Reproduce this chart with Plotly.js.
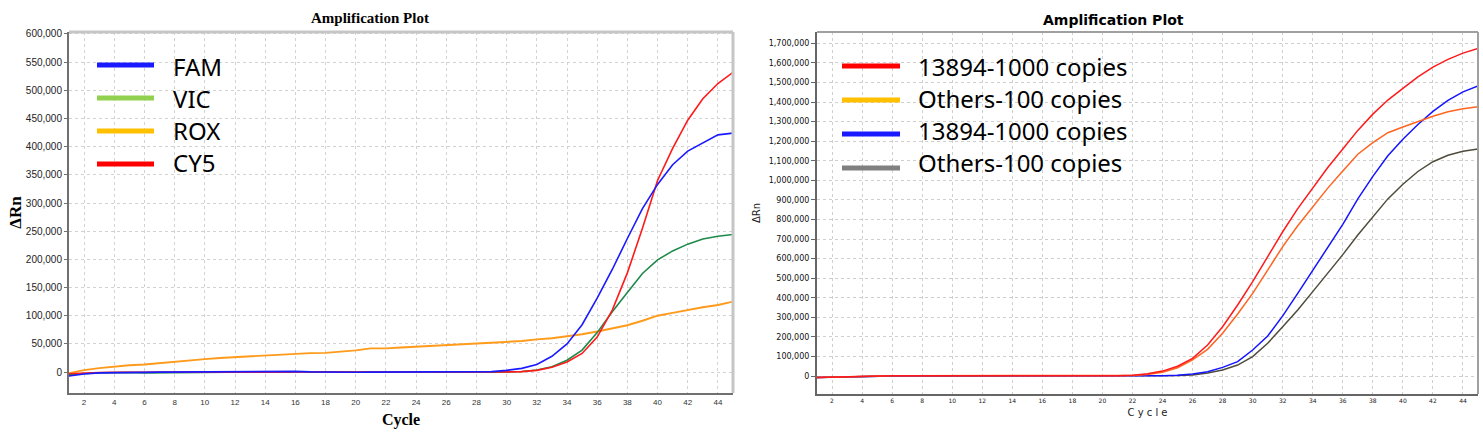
<!DOCTYPE html>
<html>
<head>
<meta charset="utf-8">
<script src="https://cdn.plot.ly/plotly-3.0.1.min.js"></script>
<style>
  body { margin: 0; background: #fff; }
  #chart { width: 1483px; height: 432px; }
</style>
</head>
<body>
<div id="chart"></div>
<script>
// cycles 1..45
var cycles = [];
for (var i = 1; i <= 45; i++) cycles.push(i);
var cycleTicks = [2,4,6,8,10,12,14,16,18,20,22,24,26,28,30,32,34,36,38,40,42,44];

// left panel: four dyes
var famVals = [-7000,-3500,-1500,-800,-300,-600,-200,0,300,600,800,500,400,300,500,1200,300,-200,-300,-400,-200,-100,-300,-200,-500,-600,-400,-300,800,3000,6500,13500,28000,50000,84000,131000,182000,237000,290000,333000,368000,392000,406000,421000,424000];
var vicVals = [-5000,-2500,-1500,-1000,-800,-1500,-1200,-500,0,300,500,800,600,400,300,200,400,600,500,200,0,-200,-800,-500,-300,-600,-800,-600,-400,200,1000,3500,9500,21000,39000,70000,107000,141000,175000,199000,215000,227000,236000,241000,244000];
var roxVals = [-2000,3500,7000,10000,12000,13500,16000,19000,21000,23000,25000,26500,28000,29500,31000,32500,33500,34000,36000,38500,42000,42000,43500,45000,46500,47000,49000,50500,52000,53000,55000,58000,60000,63500,67000,72000,77000,83000,91000,100000,105000,110500,115000,119000,125000];
var cy5Vals = [-3000,-1500,-800,-300,0,200,100,0,-100,-300,-500,-800,-500,-300,-200,0,200,100,0,-100,0,100,0,-200,-400,-300,-200,-100,0,300,800,3000,8500,18000,33000,62000,110000,176000,255000,340000,397000,447000,485000,512000,532000];

var leftNames = ['FAM', 'VIC', 'ROX', 'CY5'];
var leftLineColors = ['#1a1aff', '#1e8a4a', '#ff9a1a', '#ff1a1a'];
var leftKeyColors = ['#1a1aff', '#92d050', '#ffc000', '#ff0000'];

// right panel: two targets, two dyes
var red1000 = [-8000,-6000,-3000,0,1000,1000,1000,1000,1000,1000,1000,1000,500,0,0,0,500,0,0,0,1500,4000,11000,25000,50000,90000,158000,252000,363000,482000,610000,737000,855000,960000,1065000,1160000,1255000,1338000,1410000,1470000,1528000,1578000,1618000,1650000,1674000];
var orange100 = [-8000,-6000,-3000,0,1000,1000,1000,1000,1000,1000,1000,1000,500,0,0,0,500,0,0,0,1000,3000,8000,19000,42000,82000,136000,218000,317000,422000,541000,661000,768000,865000,960000,1048000,1133000,1192000,1243000,1272000,1300000,1327000,1350000,1366000,1376000];
var blue1000 = [-8000,-6000,-2000,0,500,500,500,500,500,500,500,500,0,0,500,1500,2000,500,0,0,0,0,500,1500,4000,10000,22000,44000,73000,133000,204000,307000,422000,542000,661000,775000,905000,1020000,1125000,1210000,1285000,1352000,1408000,1452000,1482000];
var grey100 = [-8000,-6000,-2000,0,500,500,500,500,500,500,500,500,0,0,500,1000,1500,500,0,0,0,0,0,500,2000,5000,15000,31000,56000,99000,167000,252000,337000,431000,525000,620000,720000,815000,905000,980000,1045000,1095000,1128000,1148000,1160000];

var rightNames = ['13894-1000 copies', 'Others-100 copies', '13894-1000 copies', 'Others-100 copies'];
var rightLineColors = ['#ff1a1a', '#ff6420', '#1414ff', '#4f4c3c'];
var rightKeyColors = ['#ff0000', '#ffc000', '#1a1aff', '#808080'];

var W = 1483, H = 432;
function px(x) { return x / W; }
function py(y) { return (H - y) / H; }

var leftSeries = [famVals, vicVals, roxVals, cy5Vals];
var rightSeries = [red1000, orange100, blue1000, grey100];

var traces = [];
// draw order: ROX, VIC, CY5, FAM like reference (blue on top)
[2, 1, 3, 0].forEach(function(k) {
    traces.push({
        x: cycles, y: leftSeries[k], type: 'scatter', mode: 'lines',
        name: leftNames[k], xaxis: 'x', yaxis: 'y',
        line: { color: leftLineColors[k], width: k == 2 ? 1.9 : 1.6 }
    });
});
[3, 2, 1, 0].forEach(function(k) {
    traces.push({
        x: cycles, y: rightSeries[k], type: 'scatter', mode: 'lines',
        name: rightNames[k], xaxis: 'x2', yaxis: 'y2',
        line: { color: rightLineColors[k], width: 1.5 }
    });
});

var L = { x0: px(69), x1: px(733), y0: py(393), y1: py(32) };
var R = { x0: px(817), x1: px(1478), y0: py(394), y1: py(32) };

var shapes = [];
var annotations = [];

// light frame on top / right edges
shapes.push({ type: 'line', xref: 'paper', yref: 'paper', x0: L.x0, x1: L.x1, y0: L.y1, y1: L.y1, line: { color: '#c6c6c6', width: 3 } });
shapes.push({ type: 'line', xref: 'paper', yref: 'paper', x0: L.x1, x1: L.x1, y0: L.y0, y1: L.y1, line: { color: '#c6c6c6', width: 3 } });
shapes.push({ type: 'line', xref: 'paper', yref: 'paper', x0: R.x0, x1: R.x1, y0: R.y1, y1: R.y1, line: { color: '#a0a0a0', width: 2 } });
shapes.push({ type: 'line', xref: 'paper', yref: 'paper', x0: R.x1, x1: R.x1, y0: R.y0, y1: R.y1, line: { color: '#a0a0a0', width: 2 } });

// hand-drawn style keys
var leftKeyY = [65, 98, 131, 164];
var leftTextY = [66, 98, 131, 163];
for (var k = 0; k < 4; k++) {
    shapes.push({ type: 'line', xref: 'paper', yref: 'paper', x0: px(97), x1: px(154), y0: py(leftKeyY[k]), y1: py(leftKeyY[k]), line: { color: leftKeyColors[k], width: 5 } });
    annotations.push({ xref: 'paper', yref: 'paper', x: px(171), y: py(leftTextY[k]), xanchor: 'left', yanchor: 'middle', showarrow: false, text: leftNames[k], font: { family: 'Noto Sans', size: 24, color: '#000' } });
}
var rightKeyY = [66, 100, 134, 168];
var rightTextY = [67, 99, 131, 163];
for (var k = 0; k < 4; k++) {
    shapes.push({ type: 'line', xref: 'paper', yref: 'paper', x0: px(842), x1: px(900), y0: py(rightKeyY[k]), y1: py(rightKeyY[k]), line: { color: rightKeyColors[k], width: 5 } });
    annotations.push({ xref: 'paper', yref: 'paper', x: px(916), y: py(rightTextY[k]), xanchor: 'left', yanchor: 'middle', showarrow: false, text: rightNames[k], font: { family: 'Noto Sans', size: 24, color: '#000' } });
}

// panel titles
annotations.push({ xref: 'paper', yref: 'paper', x: px(370), y: py(18), xanchor: 'center', yanchor: 'middle', showarrow: false, text: 'Amplification Plot', font: { family: 'Liberation Serif', size: 15, weight: 'bold', color: '#000' } });
annotations.push({ xref: 'paper', yref: 'paper', x: px(1113), y: py(20), xanchor: 'center', yanchor: 'middle', showarrow: false, text: 'Amplification Plot', font: { family: 'DejaVu Sans', size: 14, weight: 'bold', color: '#000' } });

var layout = {
    width: W, height: H,
    margin: { l: 0, r: 0, t: 0, b: 0 },
    paper_bgcolor: '#fff', plot_bgcolor: '#fff',
    showlegend: false,
    xaxis: {
        domain: [L.x0, L.x1], anchor: 'y', range: [1, 45],
        tickmode: 'array', tickvals: cycleTicks,
        showgrid: true, gridcolor: '#d2d2d2', griddash: '3px,3px', gridwidth: 1,
        zeroline: false, showline: true, linecolor: '#707070', linewidth: 2,
        ticks: '', tickfont: { family: 'Liberation Sans', size: 8, color: '#333' },
        automargin: false,
        title: { text: 'Cycle', standoff: 8, font: { family: 'Liberation Serif', size: 16, weight: 'bold', color: '#000' } }
    },
    yaxis: {
        domain: [L.y0, L.y1], anchor: 'x', range: [-37200, 603500],
        tick0: 0, dtick: 50000, tickformat: ',',
        showgrid: true, gridcolor: '#d2d2d2', griddash: '3px,3px', gridwidth: 1,
        zeroline: false, showline: true, linecolor: '#707070', linewidth: 2,
        ticks: 'outside', ticklen: 3, tickcolor: '#707070',
        tickfont: { family: 'Liberation Sans', size: 10, color: '#222' },
        automargin: false,
        title: { text: 'ΔRn', standoff: 0, font: { family: 'Liberation Serif', size: 17, weight: 'bold', color: '#000' } }
    },
    xaxis2: {
        domain: [R.x0, R.x1], anchor: 'y2', range: [1, 45],
        tickmode: 'array', tickvals: cycleTicks,
        showgrid: true, gridcolor: '#cfcfcf', griddash: 'dot', gridwidth: 1,
        zeroline: false, showline: true, linecolor: '#666', linewidth: 2,
        ticks: '', tickfont: { family: 'DejaVu Sans', size: 6, color: '#222' },
        automargin: false,
        title: { text: 'C y c l e', standoff: 6, font: { family: 'DejaVu Sans', size: 10, color: '#222' } }
    },
    yaxis2: {
        domain: [R.y0, R.y1], anchor: 'x2', range: [-92000, 1757800],
        tick0: 0, dtick: 100000, tickformat: ',',
        showgrid: true, gridcolor: '#cfcfcf', griddash: 'dot', gridwidth: 1,
        zeroline: false, showline: true, linecolor: '#666', linewidth: 2,
        ticks: 'outside', ticklen: 4, tickcolor: '#666',
        tickfont: { family: 'DejaVu Sans', size: 8, color: '#111' },
        automargin: false,
        title: { text: 'ΔRn', standoff: 6, font: { family: 'DejaVu Sans', size: 10, color: '#222' } }
    },
    shapes: shapes,
    annotations: annotations
};

Plotly.newPlot('chart', traces, layout, { displayModeBar: false, staticPlot: true });
</script>
</body>
</html>
